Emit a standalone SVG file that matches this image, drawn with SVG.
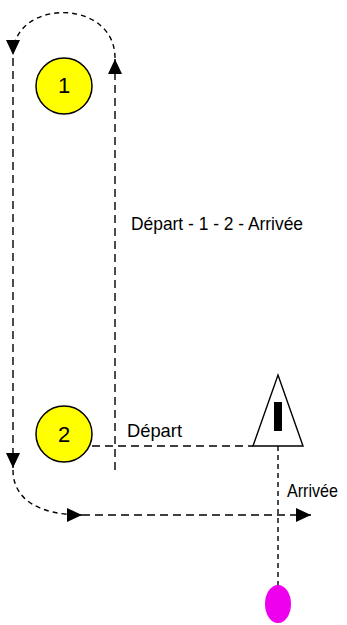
<svg xmlns="http://www.w3.org/2000/svg" width="347" height="625" viewBox="0 0 347 625">
<style>
.d{fill:none;stroke:#000;stroke-width:1.4;stroke-dasharray:8,5}
.a{fill:none;stroke:#000;stroke-width:1.4;stroke-dasharray:5,4}
.t{font-family:"Liberation Sans",Arial,sans-serif;font-size:19px;fill:#000}
.n{font-family:"Liberation Sans",Arial,sans-serif;font-size:22px;fill:#000;text-anchor:middle}
.c{fill:#ffff00;stroke:#000;stroke-width:1.5}
</style>
<defs>
<marker id="ah" markerUnits="userSpaceOnUse" markerWidth="16" markerHeight="14" refX="15" refY="7" orient="auto">
<path d="M0,0 L15,7 L0,14 Z" fill="#000"/>
</marker>
</defs>
<rect width="347" height="625" fill="#fff"/>
<g id="connectors">
<path class="a" d="M115,58 C115,-2 13,-2 13,55" marker-end="url(#ah)"/>
<path class="d" d="M13,58 L13,468" marker-end="url(#ah)"/>
<path class="d" d="M115,470 L115,59" marker-end="url(#ah)"/>
<path class="a" d="M13,470 C13,500 40,515 82,515" marker-end="url(#ah)"/>
<path class="d" d="M82,515 L311,515" marker-end="url(#ah)"/>
<path class="d" d="M92,446 L253,446"/>
<path class="a" d="M278,446 L278,586"/>
</g>
<g id="node1">
<circle class="c" cx="64" cy="86" r="28"/>
<text class="n" x="64" y="93">1</text>
</g>
<g id="node2">
<circle class="c" cx="64" cy="434" r="28"/>
<text class="n" x="64" y="442">2</text>
</g>
<g id="sign">
<polygon points="278,375 303,446 253,446" fill="#fff" stroke="#000" stroke-width="1.4"/>
<rect x="274" y="402" width="8" height="29" fill="#000"/>
</g>
<g id="end">
<ellipse cx="278" cy="604" rx="13" ry="19" fill="#ee00ee"/>
</g>
<g id="labels">
<text class="t" x="131" y="230" textLength="172" lengthAdjust="spacingAndGlyphs">Départ - 1 - 2 - Arrivée</text>
<text class="t" x="127" y="437" textLength="55" lengthAdjust="spacingAndGlyphs">Départ</text>
<text class="t" x="287" y="497" textLength="51" lengthAdjust="spacingAndGlyphs">Arrivée</text>
</g>
</svg>
